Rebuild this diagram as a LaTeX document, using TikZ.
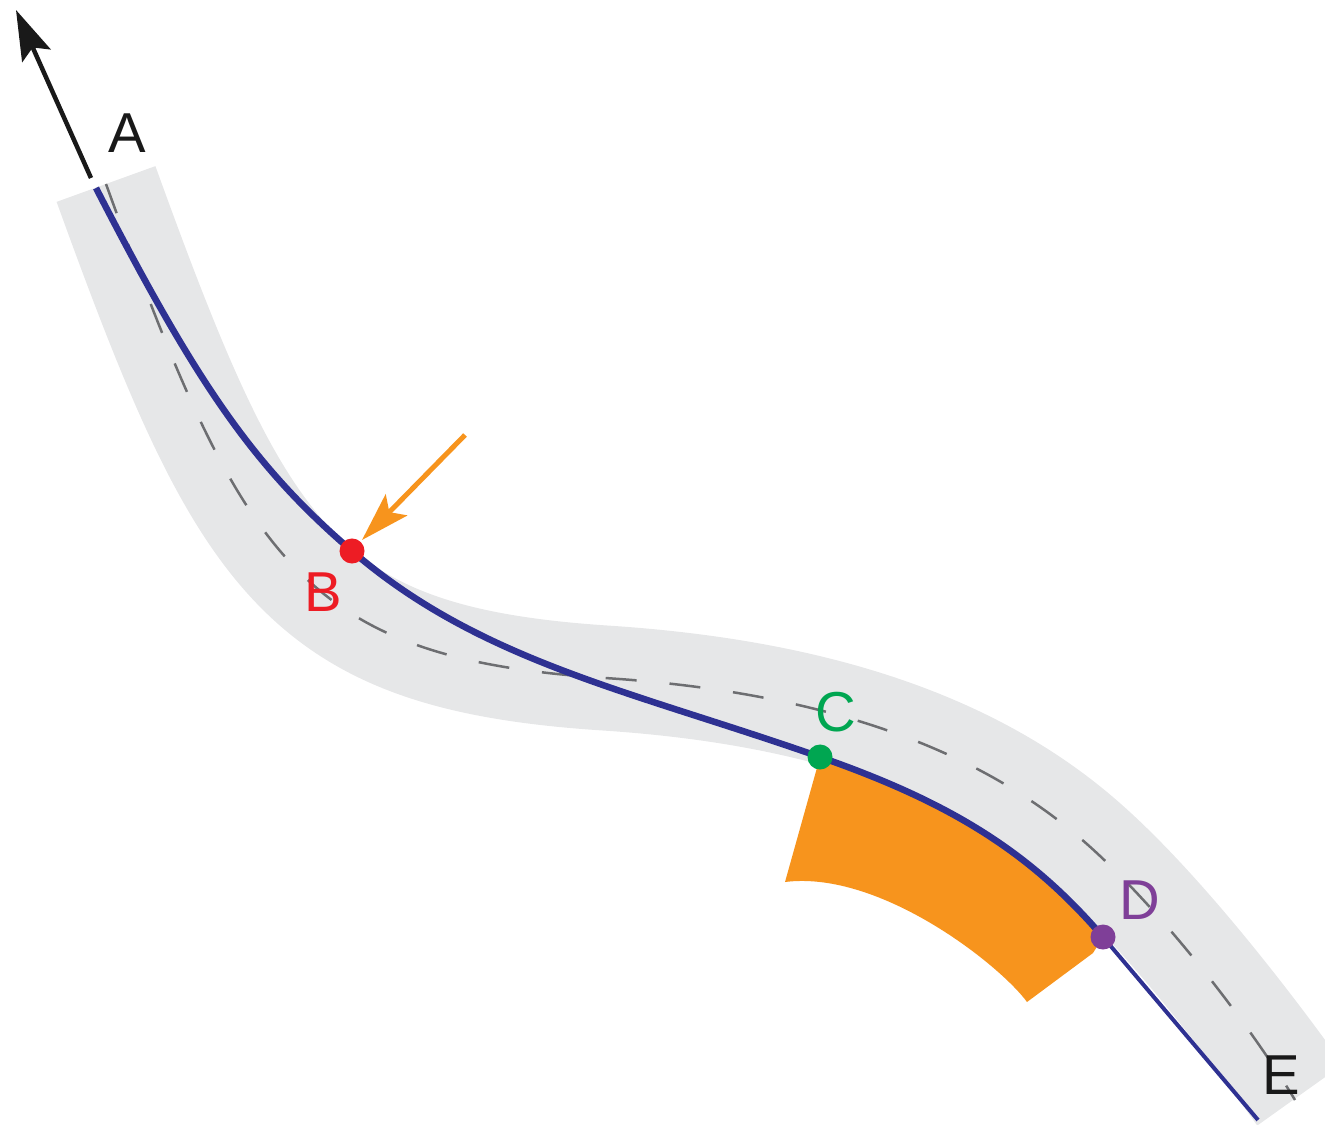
\documentclass[tikz,border=0pt]{standalone}
\usepackage{fontspec}
\setmainfont{Liberation Sans}
\usetikzlibrary{arrows.meta}
\definecolor{bandgray}{HTML}{E6E7E8}
\definecolor{dashgray}{HTML}{6D6E71}
\definecolor{pathblue}{HTML}{2E3192}
\definecolor{ptred}{HTML}{ED1C24}
\definecolor{ptgreen}{HTML}{00A651}
\definecolor{ptpurple}{HTML}{7F3F98}
\definecolor{ptorange}{HTML}{F7941D}
\tikzset{
  dotnode/.style={circle, inner sep=0pt, minimum size=0.25cm, fill=#1},
  lbl/.style={inner sep=0pt, text=#1, font=\fontsize{16pt}{16pt}\selectfont},
}
\begin{document}
\begin{tikzpicture}[x=0.01cm, y=-0.01cm]
\useasboundingbox (0,0) rectangle (1325,1125);
% key points
\coordinate (m0) at (106,184);
\coordinate (m1) at (605,678);
\coordinate (m2) at (1080,838);
\coordinate (m3) at (1300,1095);
\coordinate (pS) at (96,188);
\coordinate (pB) at (352,551);
\coordinate (pC) at (820,757);
\coordinate (pD) at (1103,937);
\coordinate (pEnd) at (1258,1120);
\begin{scope}
\clip (0,0) rectangle (1325,1125);
% grey band
\draw[bandgray, line width=1.05cm, line cap=butt]
  (m0) .. controls (242,560) and (300,658) .. (m1)
       .. controls (805,691) and (966,740) .. (m2)
       .. controls (1156,903) and (1248,1022) .. (m3);
% dashed centre line
\draw[dashgray, line width=0.025cm, dash pattern=on 0.31cm off 0.33cm]
  (m0) .. controls (242,560) and (300,658) .. (m1)
       .. controls (805,691) and (966,740) .. (m2)
       .. controls (1156,903) and (1248,1022) .. (1295,1100);
\end{scope}
% orange region
\fill[ptorange] (pC) .. controls (952,803) and (1031,853) .. (pD)
  -- (1093,953) -- (1027,1002) .. controls (1000,965) and (880,870) .. (785,882) -- cycle;
% blue path
\draw[pathblue, line width=0.065cm]
  (pS) .. controls (197,384) and (253,466) .. (pB)
       .. controls (481,662) and (632,691) .. (pC)
       .. controls (952,803) and (1031,853) .. (pD);
\draw[pathblue, line width=0.04cm] (pD) -- (pEnd);
% black arrow
\coordinate (aStart) at (91,178);
\coordinate (aTip) at (16,10);
\draw[black!90, line width=0.045cm, -{Stealth[length=0.5cm, width=0.31cm, inset=0.09cm]}] (aStart) -- (aTip);
% orange arrow
\coordinate (oStart) at (465,435);
\coordinate (oTip) at (362,540);
\draw[ptorange, line width=0.05cm, -{Stealth[length=0.49cm, width=0.30cm, inset=0.1cm]}] (oStart) -- (oTip);
% dots
\node[dotnode=ptred] (B) at (pB) {};
\node[dotnode=ptgreen] (C) at (pC) {};
\node[dotnode=ptpurple] (D) at (pD) {};
% labels
\node[lbl=black!90] (lA) at (127,133) {A};
\node[lbl=ptred] (lB) at (323,592) {B};
\node[lbl=ptgreen] (lC) at (836,712) {C};
\node[lbl=ptpurple] (lD) at (1140,900) {D};
\node[lbl=black!90] (lE) at (1281,1075) {E};
\end{tikzpicture}
\end{document}
